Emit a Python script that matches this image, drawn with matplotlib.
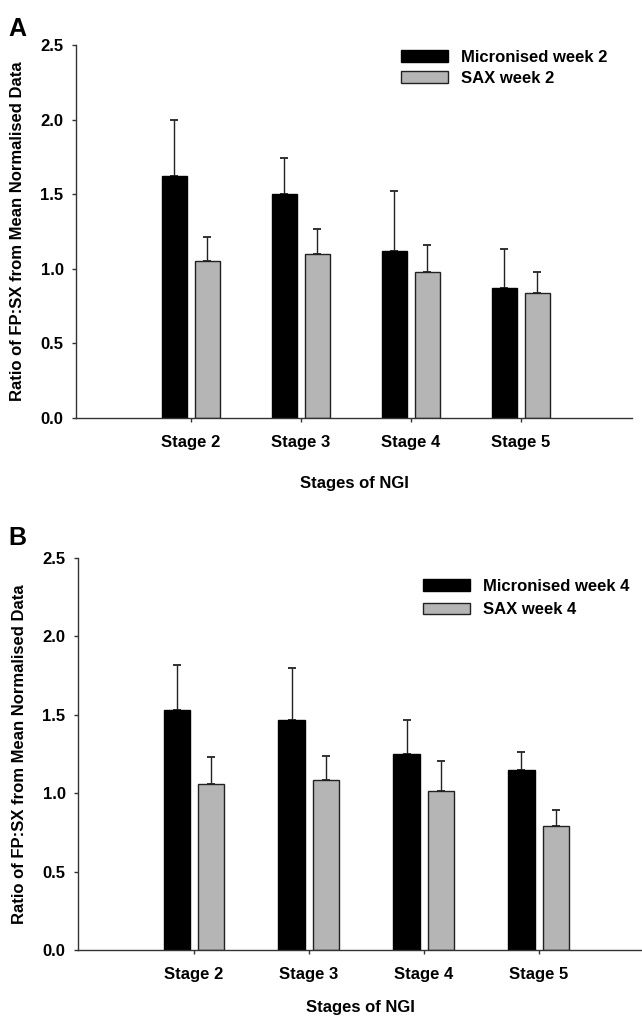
import matplotlib
matplotlib.use("Agg")
import matplotlib.pyplot as plt
import numpy as np
from matplotlib.patches import Patch

plt.rcParams['font.family'] = ['Liberation Sans', 'DejaVu Sans']
plt.rcParams['font.weight'] = 'bold'

stages = ["Stage 2", "Stage 3", "Stage 4", "Stage 5"]

# Panel A (week 2)
micron_w2 = [1.62, 1.50, 1.12, 0.87]
micron_w2_err = [0.38, 0.24, 0.40, 0.26]
sax_w2 = [1.05, 1.10, 0.98, 0.84]
sax_w2_err = [0.16, 0.17, 0.18, 0.14]

# Panel B (week 4)
micron_w4 = [1.53, 1.47, 1.25, 1.145]
micron_w4_err = [0.29, 0.33, 0.22, 0.12]
sax_w4 = [1.06, 1.085, 1.013, 0.79]
sax_w4_err = [0.17, 0.155, 0.19, 0.10]

yticks = [0.0, 0.5, 1.0, 1.5, 2.0, 2.5]

W, H = 642, 1017
fig = plt.figure(figsize=(W/100, H/100), dpi=100)

def panel(rect, xlim, m, me, s, se, labels, letter, letter_xy, leg_xy, xlabelpad, labelspacing):
    ax = fig.add_axes(rect)
    x = np.arange(1, len(stages) + 1)
    off, w = 0.15, 0.23
    ax.bar(x - off, m, w, color='black', edgecolor='black', linewidth=1, zorder=2)
    ax.bar(x + off, s, w, color='#b5b5b5', edgecolor='#222222', linewidth=1, zorder=2)
    ax.errorbar(x - off, m, yerr=[np.zeros(len(m)), me], fmt='none', ecolor='#222222',
                elinewidth=1, capsize=3, capthick=1.3, zorder=1)
    ax.errorbar(x + off, s, yerr=[np.zeros(len(s)), se], fmt='none', ecolor='#222222',
                elinewidth=1, capsize=3, capthick=1.3, zorder=1)
    ax.set_xlim(*xlim)
    ax.set_ylim(0, 2.5)
    ax.set_yticks(yticks)
    ax.set_yticklabels([f"{v:.1f}" for v in yticks], fontsize=12, fontweight='bold')
    ax.set_xticks(x)
    ax.set_xticklabels(stages, fontsize=12, fontweight='bold')
    for sp in ['top', 'right']:
        ax.spines[sp].set_visible(False)
    for sp in ['left', 'bottom']:
        ax.spines[sp].set_linewidth(1)
        ax.spines[sp].set_color('#333333')
    ax.tick_params(axis='y', direction='out', length=3, width=1, pad=6, colors='#333333', labelcolor='black')
    ax.tick_params(axis='x', direction='out', length=3, width=1, pad=9, colors='#333333', labelcolor='black')
    ax.set_xlabel("Stages of NGI", fontsize=12, fontweight='bold', labelpad=xlabelpad)
    ax.set_ylabel("Ratio of FP:SX from Mean Normalised Data", fontsize=12, fontweight='bold', labelpad=11)
    handles = [Patch(facecolor='black', edgecolor='black'),
               Patch(facecolor='#b5b5b5', edgecolor='#222222')]
    ax.legend(handles, labels, loc='upper left', bbox_to_anchor=leg_xy,
              bbox_transform=fig.transFigure, frameon=False,
              prop={'weight': 'bold', 'size': 12}, handlelength=2.8, handleheight=0.7,
              handletextpad=0.8, labelspacing=labelspacing, borderpad=0, borderaxespad=0)
    fig.text(letter_xy[0], letter_xy[1], letter, fontsize=18, fontweight='bold', va='top', ha='left')
    return ax

panel([76/W, 1-418/H, (632-76)/W, (418-45)/H], (-0.045, 5.01),
      micron_w2, micron_w2_err, sax_w2, sax_w2_err,
      ["Micronised week 2", "SAX week 2"], "A", (8/W, 1-17/H), (401/W, 1-50/H), 19, 0.35)

panel([78/W, 1-950/H, (642-78)/W, (950-558)/H], (-0.01, 4.9),
      micron_w4, micron_w4_err, sax_w4, sax_w4_err,
      ["Micronised week 4", "SAX week 4"], "B", (8/W, 1-526/H), (423/W, 1-579/H), 13.5, 0.5)

fig.savefig("out.png", dpi=100)
